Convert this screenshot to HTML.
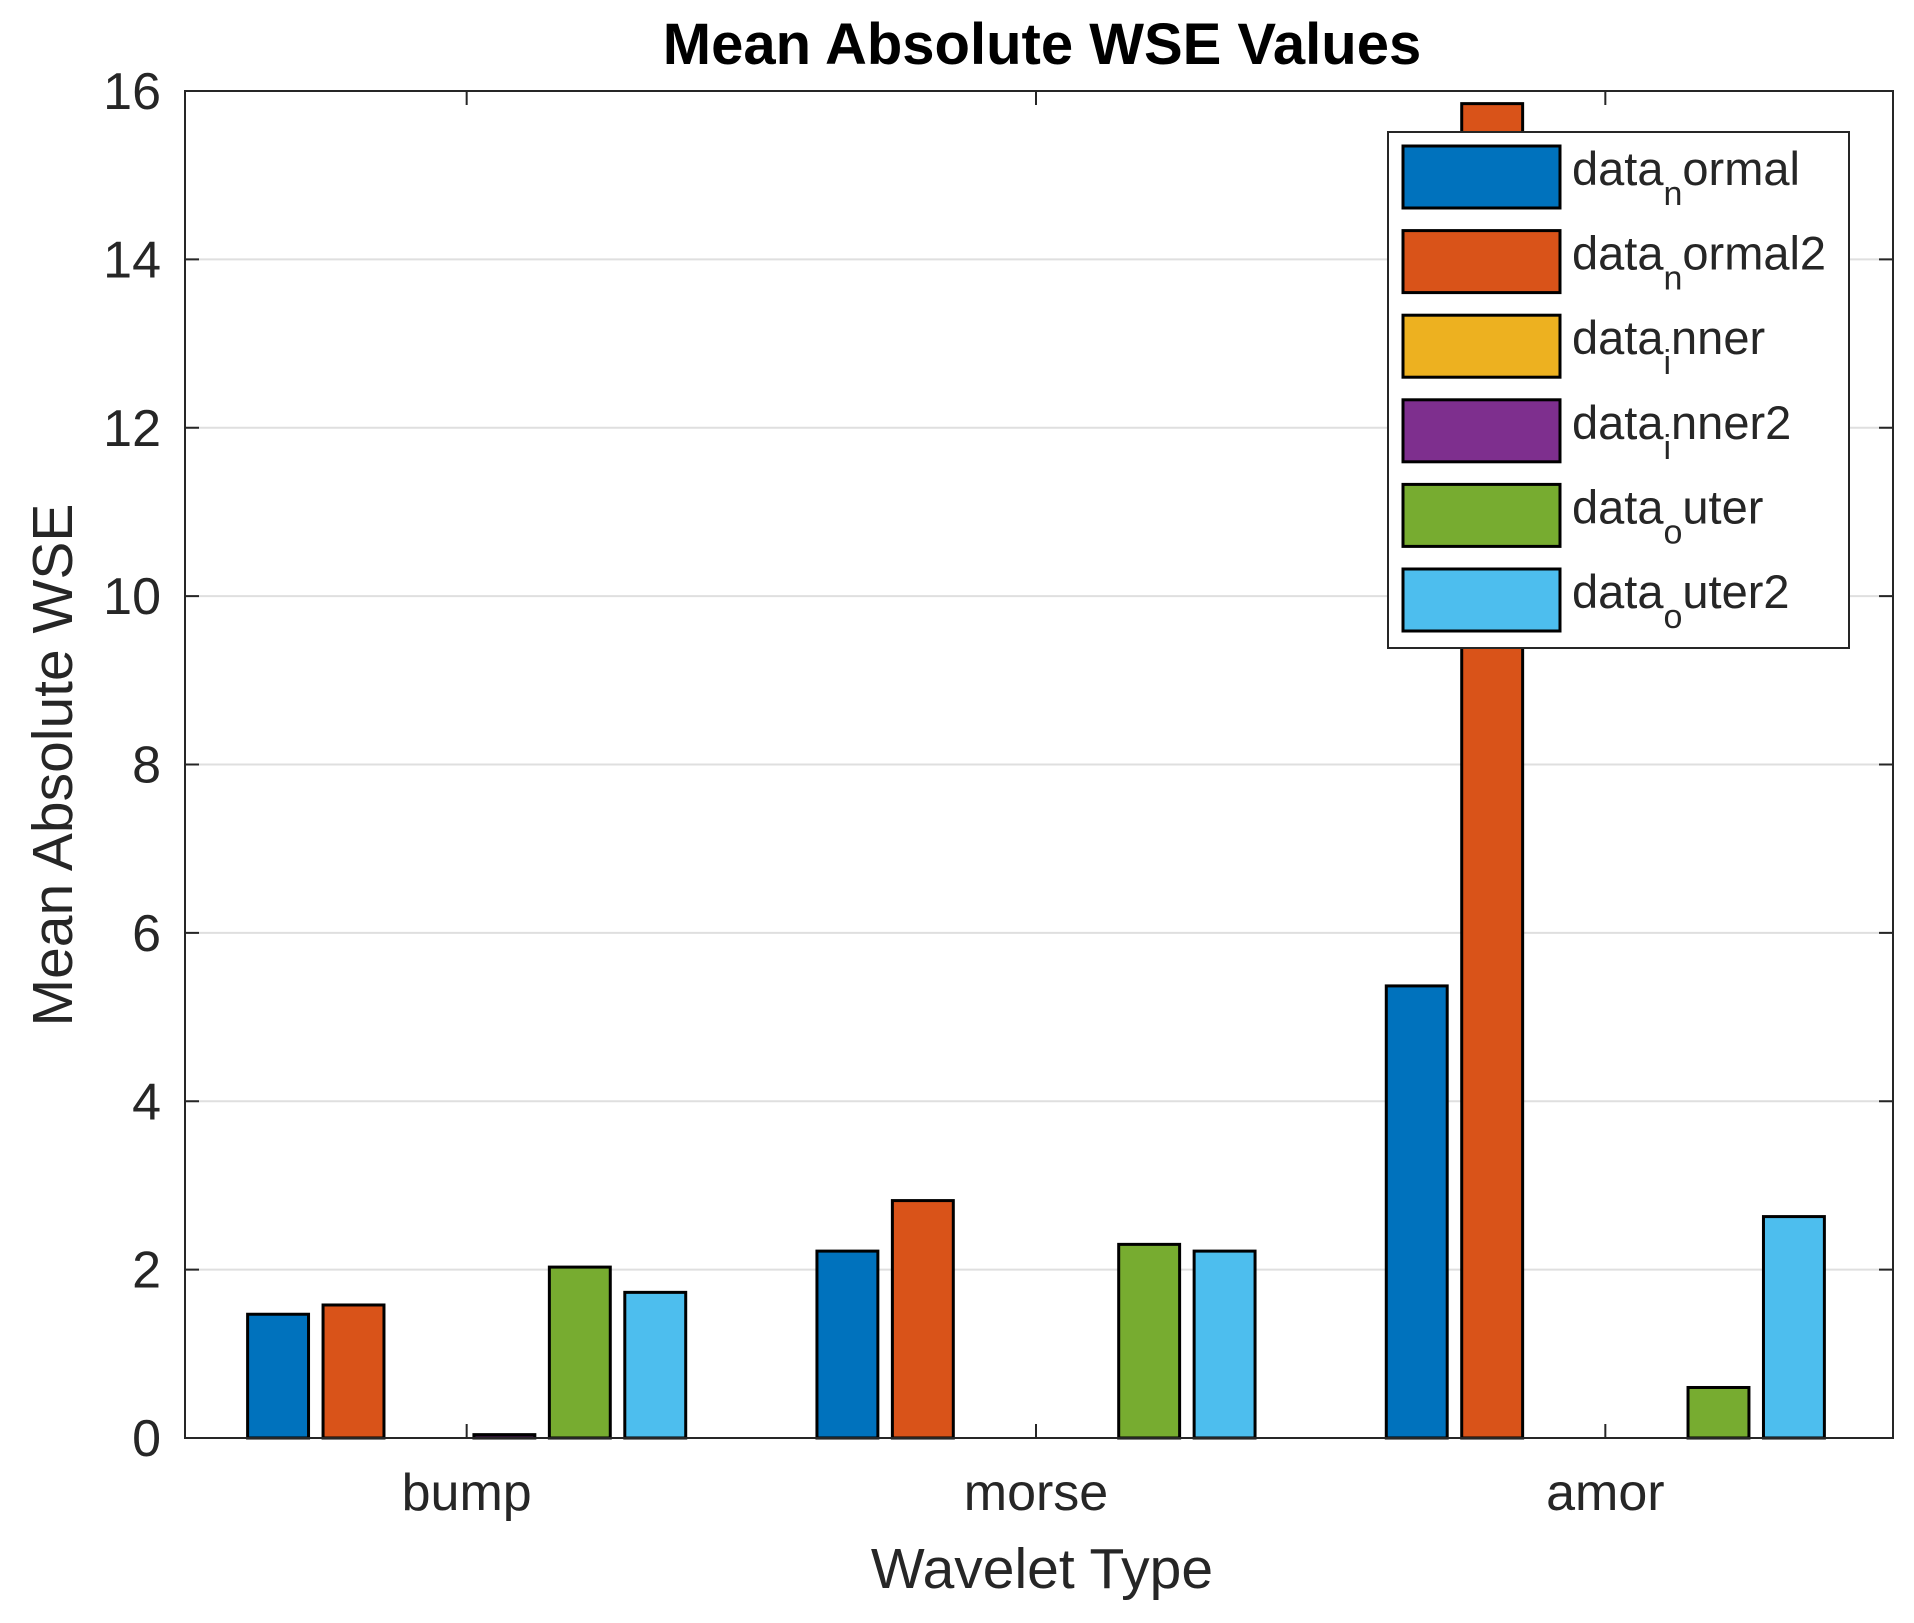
<!DOCTYPE html>
<html><head><meta charset="utf-8"><style>
html,body{margin:0;padding:0;background:#fff;}
svg{display:block;font-family:"Liberation Sans",Arial,sans-serif;}
</style></head><body>
<svg id="chart" width="1914" height="1623" viewBox="0 0 1914 1623" xmlns="http://www.w3.org/2000/svg">
<rect width="1914" height="1623" fill="#fff"/>
<text x="1042" y="64" font-size="58" font-weight="bold" text-anchor="middle" fill="#000">Mean Absolute WSE Values</text>
<text transform="translate(72,765) rotate(-90)" font-size="57" text-anchor="middle" fill="#262626">Mean Absolute WSE</text>
<text x="1042" y="1588" font-size="57" text-anchor="middle" fill="#262626">Wavelet Type</text>
<g id="grid"></g><g id="bars"></g><g id="axes"></g><g id="legend"></g>
</svg>
<script>
const categories = ["bump","morse","amor"];
const seriesNames = ["data_normal","data_normal2","data_inner","data_inner2","data_outer","data_outer2"];
const dataNormal = [1.47, 2.22, 5.37];
const dataNormal2 = [1.58, 2.82, 15.85];
const dataInner = [0, 0, 0];
const dataInner2 = [0.04, 0, 0];
const dataOuter = [2.03, 2.3, 0.6];
const dataOuter2 = [1.73, 2.22, 2.63];
const yTicks = [0,2,4,6,8,10,12,14,16];
const colors = ["#0072BD","#D95319","#EDB120","#7E2F8E","#77AC30","#4DBEEE"];
const series = [dataNormal,dataNormal2,dataInner,dataInner2,dataOuter,dataOuter2];

const NS="http://www.w3.org/2000/svg";
const L=185,R=1893,T=91,B=1438;
const xScale=v=>L+(v-0.5)/3*(R-L)-3;
const yScale=v=>B-v/16*(B-T);
function mk(tag,attrs,parent){const e=document.createElementNS(NS,tag);for(const k in attrs)e.setAttribute(k,attrs[k]);parent.appendChild(e);return e;}
const grid=document.getElementById('grid'),bars=document.getElementById('bars'),axes=document.getElementById('axes'),leg=document.getElementById('legend');

yTicks.forEach(t=>{
  const y=yScale(t);
  if(t>0&&t<16){const g=mk('line',{x1:L,x2:R,y1:y,y2:y,stroke:'#dfdfdf','stroke-width':2},grid);
  
  }
  mk('line',{x1:L,x2:L+14,y1:y,y2:y,stroke:'#262626','stroke-width':2},axes);
  mk('line',{x1:R,x2:R-14,y1:y,y2:y,stroke:'#262626','stroke-width':2},axes);
  const tx=mk('text',{x:L-24,y:y+18,'font-size':52,'text-anchor':'end',fill:'#262626'},axes);
  tx.textContent=t;
  
  
});
const step=(R-L)/3;
const off=0.1325, bw=0.107;
categories.forEach((c,i)=>{
  const cx=xScale(i+1);
  mk('line',{x1:cx,x2:cx,y1:B,y2:B-14,stroke:'#262626','stroke-width':2},axes);
  mk('line',{x1:cx,x2:cx,y1:T,y2:T+14,stroke:'#262626','stroke-width':2},axes);
  const tx=mk('text',{x:cx,y:1510,'font-size':52,'text-anchor':'middle',fill:'#262626'},axes);
  tx.textContent=c;
  
  
  series.forEach((s,j)=>{
    const v=s[i]; if(v<=0) return;
    const xc=xScale(i+1+(j-2.5)*off);
    const w=bw*step;
    const r=mk('rect',{x:xc-w/2,y:yScale(v),width:w,height:B-yScale(v),fill:colors[j],stroke:'#000','stroke-width':3},bars);
    
    
  });
});
const frame=mk('rect',{x:L,y:T,width:R-L,height:B-T,fill:'none',stroke:'#262626','stroke-width':2},axes);



const lb=mk('rect',{x:1388,y:132,width:461,height:516,fill:'#fff',stroke:'#262626','stroke-width':2},leg);


seriesNames.forEach((n,j)=>{
  const cy=177+j*84.6;
  const sw=mk('rect',{x:1403,y:cy-31,width:157,height:62,fill:colors[j],stroke:'#000','stroke-width':3},leg);
  
  
  const parts=n.split('_');
  const sub=parts[1][0], rest=parts[1].slice(1);
  const t=mk('text',{x:1572,y:cy+8,'font-size':47,fill:'#262626'},leg);
  
  
  const a=mk('tspan',{},t);a.textContent=parts[0];
  const b=mk('tspan',{dy:20,'font-size':34},t);b.textContent=sub;
  const c2=mk('tspan',{dy:-20},t);c2.textContent=rest;
});
</script>
</body></html>
